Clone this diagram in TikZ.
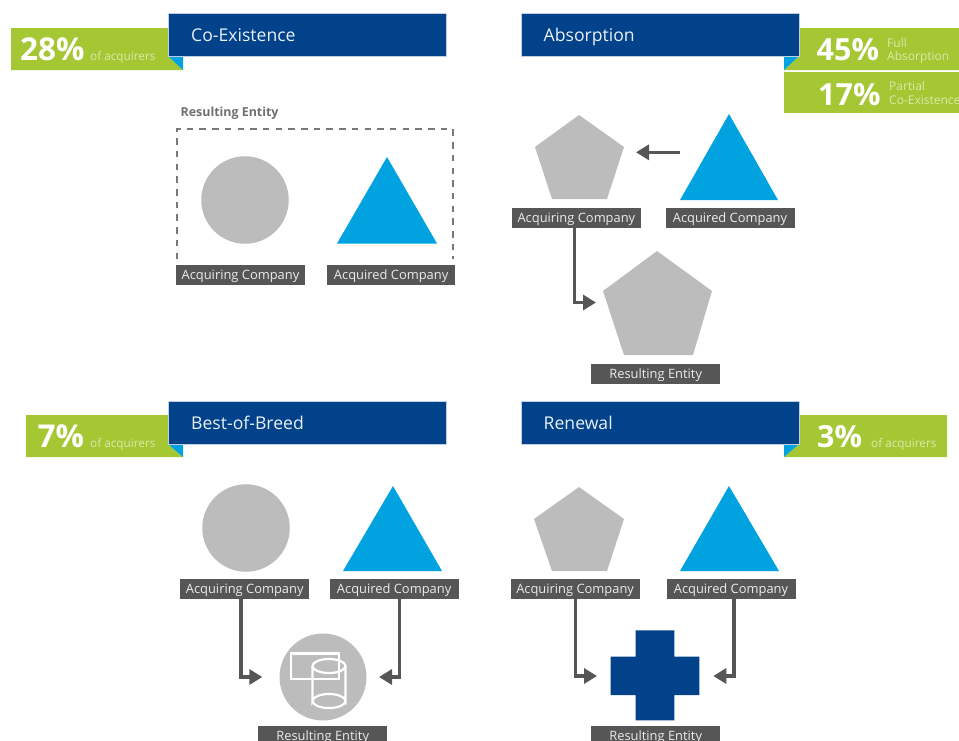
\documentclass[tikz,border=0pt]{standalone}
\usepackage{fontspec}
\setmainfont{Open Sans}
\usetikzlibrary{arrows.meta,shapes.geometric}
\definecolor{hdrblue}{HTML}{01428A}
\definecolor{foldcyan}{HTML}{00A3E0}
\definecolor{tagreen}{HTML}{A5C733}
\definecolor{shapegray}{HTML}{BCBCBC}
\definecolor{labeldark}{HTML}{565656}
\tikzset{
 x=1pt,y=-1pt,
 hdr/.style={fill=hdrblue,draw=white!75!hdrblue,line width=.5pt,anchor=north west,minimum width=278pt,minimum height=43pt,inner sep=0pt},
 hdrtext/.style={anchor=base west,inner sep=0pt,text=white!92!hdrblue,font=\fontsize{17.6}{18}\selectfont},
 tag/.style={fill=tagreen},
 fold/.style={fill=foldcyan},
 pct/.style={anchor=base west,inner sep=0pt,text=white,font=\fontsize{31.5}{32}\selectfont\bfseries},
 pctb/.style={pct,font=\fontsize{30.5}{31}\selectfont\bfseries},
 sm/.style={anchor=base west,inner sep=0pt,text=white!60!tagreen,font=\fontsize{11.75}{12}\selectfont},
 smb/.style={sm,font=\fontsize{12}{12}\selectfont},
 lab/.style={fill=labeldark,text=white!88!labeldark,anchor=north west,minimum width=129pt,minimum height=20pt,inner sep=0pt,text height=12pt,text depth=3pt,font=\fontsize{12.9}{13}\selectfont},
 gshape/.style={fill=shapegray},
 cshape/.style={fill=foldcyan},
 conn/.style={draw=labeldark,line width=3.2pt,-{Triangle[length=13pt,width=15pt]}},
 icon/.style={draw=white,line width=2.2pt},
}
\begin{document}
\begin{tikzpicture}
\useasboundingbox (0,0) rectangle (959,740);
\clip (0,0) rectangle (959,740);
% Co-Existence
\fill[tag] (11,28) -- (168,28) -- (168,56) -- (183,70) -- (11,70) -- cycle;
\fill[fold] (168,56) -- (183,56) -- (183,70) -- cycle;
\node[hdr] (h1) at (168,13) {};
\node[hdrtext] (h1t) at (191,41.3) {Co-Existence};
\node[pct] (p1) at (20,60.8) {28\%};
\node[sm] (s1) at (90,60.2) {of acquirers};
\node[anchor=base west,inner sep=0pt,text=labeldark!85,font=\fontsize{12.4}{13}\selectfont\bfseries] (re1) at (180.5,116.5) {Resulting Entity};
\draw[labeldark!80,line width=1.6pt,dash pattern=on 6.5pt off 6.2pt] (177,259) -- (177,129) -- (453,129) -- (453,259);
\node[circle,gshape,minimum size=87.5pt,inner sep=0pt] (c1) at (245,200) {};
\fill[cshape] (387,157) -- (437,243.5) -- (337,243.5) -- cycle;
\node[lab,minimum width=128.5pt] (a1) at (176,264.4) {Acquiring Company};
\node[lab,minimum width=128.5pt] (b1) at (326.7,264.4) {Acquired Company};
% Absorption
\fill[tag] (799,28) -- (959,28) -- (959,70) -- (784,70) -- (799,56) -- cycle;
\fill[fold] (799,56) -- (784,56) -- (784,70) -- cycle;
\fill[tag] (784,72) rectangle (959,113);
\node[hdr] (h2) at (521,13) {};
\node[hdrtext] (h2t) at (543.5,41.3) {Absorption};
\node[pctb] (p2) at (816.5,60) {45\%};
\node[smb] (s2a) at (887,47.5) {Full};
\node[smb] (s2b) at (887,60.5) {Absorption};
\node[pctb] (p3) at (818,105.2) {17\%};
\node[smb] (s3a) at (889,90.5) {Partial};
\node[smb] (s3b) at (889,104.5) {Co-Existence};
\fill[gshape] (579,115) -- (624,147) -- (607,199) -- (552,199) -- (535,147) -- cycle;
\fill[cshape] (729,114) -- (778,200) -- (680,200) -- cycle;
\node[lab] (a2) at (511.7,207.3) {Acquiring Company};
\node[lab] (b2) at (665.3,207.3) {Acquired Company};
\fill[gshape] (657,251) -- (712,291) -- (693,355) -- (624,355) -- (603,291) -- cycle;
\node[lab] (r2) at (591,363.3) {Resulting Entity};
\coordinate (t2s) at (680,152.3);
\coordinate (t2e) at (636,152.3);
\coordinate (e2) at (596,302.5);
\draw[conn] (t2s) -- (t2e);
\draw[conn] (a2.south -| 574.7,0) |- (e2);
% Best-of-Breed
\fill[tag] (26,415) -- (168,415) -- (168,444) -- (183,457) -- (26,457) -- cycle;
\fill[fold] (168,444) -- (183,444) -- (183,457) -- cycle;
\node[hdr] (h3) at (168,401) {};
\node[hdrtext] (h3t) at (191,429.3) {Best-of-Breed};
\node[pct] (p4) at (37.5,447.5) {7\%};
\node[sm] (s4) at (90,447.2) {of acquirers};
\node[circle,gshape,minimum size=87.5pt,inner sep=0pt] (c3) at (246,528) {};
\fill[cshape] (393,486) -- (442,571) -- (343,571) -- cycle;
\node[lab] (a3) at (180,578.4) {Acquiring Company};
\node[lab] (b3) at (329.4,578.4) {Acquired Company};
\node[circle,gshape,minimum size=87pt,inner sep=0pt] (c3r) at (323,677) {};
\draw[icon] (291,653.5) rectangle (339,679);
\draw[icon] (312.5,666) -- (312.5,701) arc[start angle=180,end angle=360,x radius=16.5,y radius=7] -- (345.5,666);
\draw[icon] (329,666) ellipse[x radius=16.5,y radius=7];
\draw[icon] (312.5,701) arc[start angle=180,end angle=0,x radius=16.5,y radius=7];
\node[lab] (r3) at (258,725.3) {Resulting Entity};
\coordinate (e3a) at (262.3,677);
\coordinate (e3b) at (379,677);
\draw[conn] (a3.south -| 241,0) |- (e3a);
\draw[conn] (b3.south -| 399.5,0) |- (e3b);
% Renewal
\fill[tag] (799,415) -- (947,415) -- (947,457) -- (784,457) -- (799,444) -- cycle;
\fill[fold] (799,444) -- (784,444) -- (784,457) -- cycle;
\node[hdr] (h4) at (521,401) {};
\node[hdrtext] (h4t) at (543.5,429.3) {Renewal};
\node[pctb] (p5) at (817,447.2) {3\%};
\node[sm] (s5) at (871,447.2) {of acquirers};
\fill[gshape] (579,487) -- (624,519) -- (607,571) -- (552,571) -- (534,519) -- cycle;
\fill[cshape] (729,486) -- (779,571) -- (680,571) -- cycle;
\node[lab] (a4) at (510.4,578.4) {Acquiring Company};
\node[lab] (b4) at (666.3,578.4) {Acquired Company};
\fill[hdrblue] (635.7,630.3) -- (674.3,630.3) -- (674.3,656.7) -- (699.3,656.7) -- (699.3,695) -- (674.3,695) -- (674.3,720.3) -- (635.7,720.3) -- (635.7,695) -- (610.7,695) -- (610.7,656.7) -- (635.7,656.7) -- cycle;
\node[lab] (r4) at (591,725.3) {Resulting Entity};
\coordinate (e4a) at (597,676);
\coordinate (e4b) at (713.3,676);
\draw[conn] (a4.south -| 575.7,0) |- (e4a);
\draw[conn] (b4.south -| 734,0) |- (e4b);
\end{tikzpicture}
\end{document}
